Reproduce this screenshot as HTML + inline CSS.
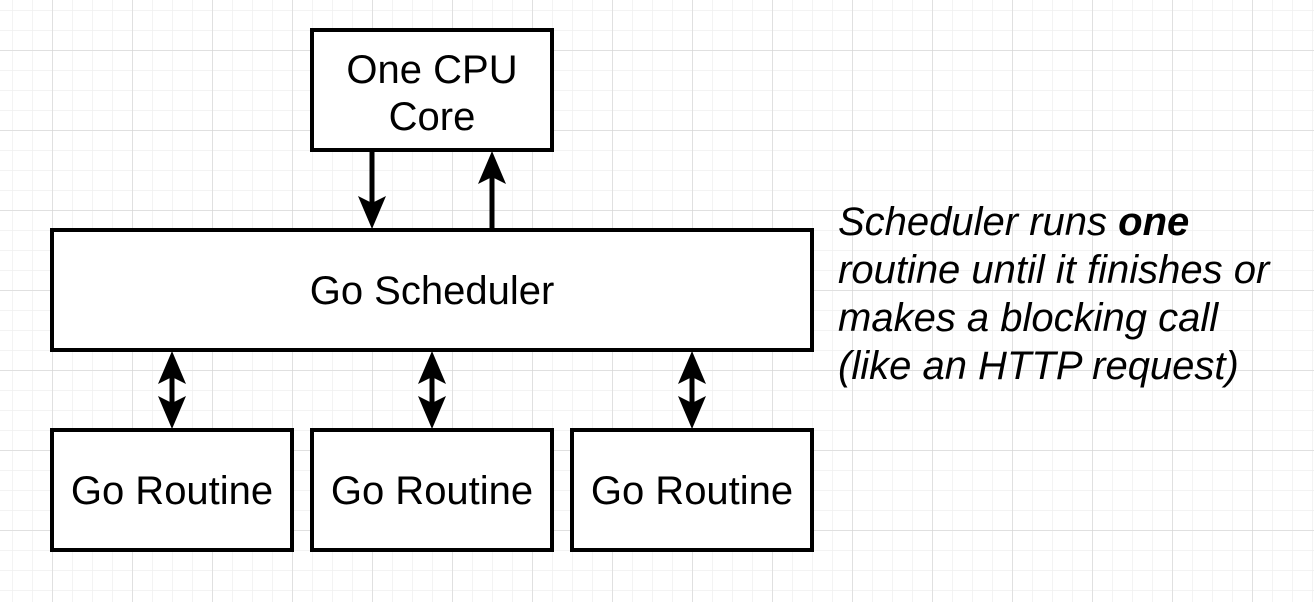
<!DOCTYPE html>
<html><head><style>
body{margin:0;width:1314px;height:602px;overflow:hidden;background:#fff;font-family:"Liberation Sans",sans-serif;}
</style></head><body>
<svg width="1314" height="602" xmlns="http://www.w3.org/2000/svg">
<defs>
<pattern id="minor" width="20" height="20" patternUnits="userSpaceOnUse" x="12" y="10">
<path d="M0 0H20M0 0V20" stroke="#efefef" stroke-width="1.5" fill="none"/>
</pattern>
<pattern id="major" width="80" height="80" patternUnits="userSpaceOnUse" x="52.5" y="50.5">
<path d="M0 0H80M0 0V80" stroke="#d0d0d0" stroke-width="1" fill="none"/>
</pattern>
</defs>
<rect width="1314" height="602" fill="url(#minor)"/>
<rect width="1314" height="602" fill="url(#major)"/>
<g fill="#fff" stroke="#000" stroke-width="4">
<rect x="312" y="30" width="240" height="120"/>
<rect x="52" y="230" width="760" height="120"/>
<rect x="52" y="430" width="240" height="120"/>
<rect x="312" y="430" width="240" height="120"/>
<rect x="572" y="430" width="240" height="120"/>
</g>
<g stroke="#000" stroke-width="5" fill="#000">
<line x1="372" y1="151" x2="372" y2="205"/>
<path d="M358 196L372 229L386 196L372 203Z" stroke="none"/>
<line x1="492" y1="229" x2="492" y2="175"/>
<path d="M478 184L492 151L506 184L492 177Z" stroke="none"/>
<g id="dbl">
<line x1="172" y1="375" x2="172" y2="405"/>
<path d="M158 384L172 351L186 384L172 377Z" stroke="none"/>
<path d="M158 396L172 429L186 396L172 403Z" stroke="none"/>
</g>
<use href="#dbl" x="260"/>
<use href="#dbl" x="520"/>
</g>
<g font-size="40" text-anchor="middle" fill="#000">
<text x="432" y="83">One CPU</text>
<text x="432" y="130">Core</text>
<text x="432" y="304">Go Scheduler</text>
<text x="172" y="504">Go Routine</text>
<text x="432" y="504">Go Routine</text>
<text x="692" y="504">Go Routine</text>
</g>
<g font-size="40" font-style="italic" fill="#000">
<text x="838" y="235">Scheduler runs <tspan font-weight="bold">one</tspan></text>
<text x="838" y="283">routine until it finishes or</text>
<text x="838" y="331">makes a blocking call</text>
<text x="838" y="379">(like an HTTP request)</text>
</g>
</svg>
</body></html>
